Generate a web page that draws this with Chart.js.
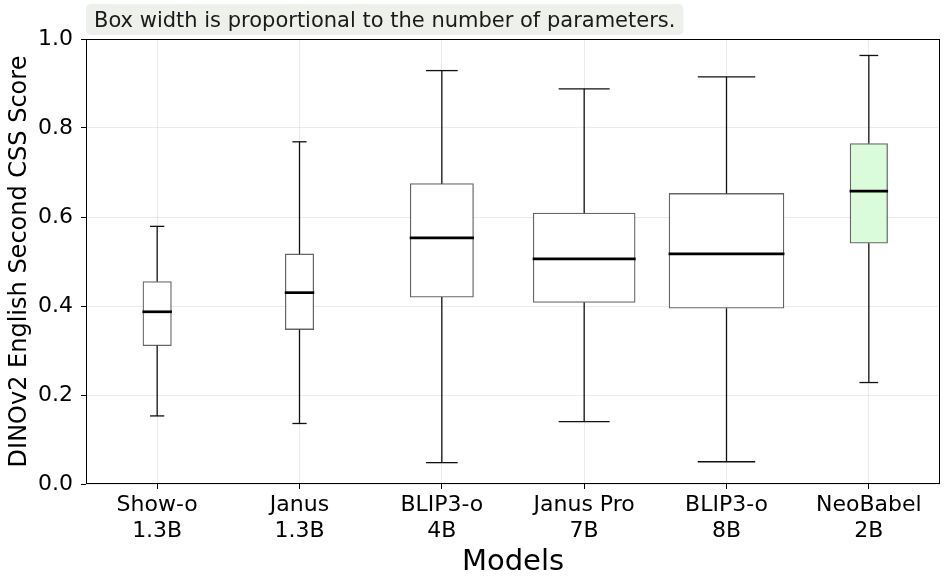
<!DOCTYPE html>
<html><head><meta charset="utf-8">
<script src="https://cdn.jsdelivr.net/npm/chart.js@4"></script>
<style>html,body{margin:0;padding:0;background:#fff}#wrap{width:950px;height:587px}</style>
</head><body><div id="wrap"><canvas id="c" width="950" height="587"></canvas></div>
<script>
const models = [['Show-o','1.3B'],['Janus','1.3B'],['BLIP3-o','4B'],['Janus Pro','7B'],['BLIP3-o','8B'],['NeoBabel','2B']];
const paramsB = [1.3, 1.3, 4, 7, 8, 2];
const whiskerLow  = [0.153, 0.136, 0.048, 0.140, 0.050, 0.228];
const q1          = [0.311, 0.347, 0.420, 0.408, 0.395, 0.541];
const median      = [0.387, 0.430, 0.553, 0.506, 0.517, 0.658];
const q3          = [0.455, 0.517, 0.675, 0.609, 0.653, 0.765];
const whiskerHigh = [0.579, 0.769, 0.929, 0.888, 0.915, 0.963];
const yTicks = [0, 0.2, 0.4, 0.6, 0.8, 1.0];
const highlightIndex = 5;
const noteText = 'Box width is proportional to the number of parameters.';

const FONT = "'DejaVu Sans', sans-serif";
function boxWidth(i){ return 11.7 + 12.9 * paramsB[i]; }

const datasets = models.map((m, i) => ({
  label: m.join(' '),
  data: models.map((_, j) => j === i ? [q1[i], q3[i]] : null),
  backgroundColor: i === highlightIndex ? '#dbfcdb' : '#ffffff',
  borderColor: 'rgba(0,0,0,0.6)',
  borderWidth: 1.3,
  borderSkipped: false,
  barThickness: boxWidth(i),
  grouped: false
}));

const overlay = {
  id: 'overlay',
  afterDatasetsDraw(chart){
    const {ctx, scales:{x, y}, chartArea:a} = chart;
    ctx.save();
    const seg = (x1,y1,x2,y2) => { ctx.beginPath(); ctx.moveTo(x1,y1); ctx.lineTo(x2,y2); ctx.stroke(); };
    models.forEach((m, i) => {
      const cx = x.getPixelForValue(i);
      const w = boxWidth(i);
      ctx.strokeStyle = '#111';
      ctx.lineWidth = 1.3;
      seg(cx, y.getPixelForValue(q3[i]), cx, y.getPixelForValue(whiskerHigh[i]));
      seg(cx, y.getPixelForValue(q1[i]), cx, y.getPixelForValue(whiskerLow[i]));
      seg(cx - w/4, y.getPixelForValue(whiskerHigh[i]), cx + w/4, y.getPixelForValue(whiskerHigh[i]));
      seg(cx - w/4, y.getPixelForValue(whiskerLow[i]), cx + w/4, y.getPixelForValue(whiskerLow[i]));
      ctx.strokeStyle = '#000';
      ctx.lineWidth = 2.7;
      const my = y.getPixelForValue(median[i]);
      seg(cx - w/2 - 0.5, my, cx + w/2 + 0.5, my);
    });
    ctx.strokeStyle = '#000';
    ctx.lineWidth = 1;
    ctx.strokeRect(a.left + 0.5, a.top + 0.5, a.width - 1, a.height - 1);
    ctx.restore();
  },
  afterDraw(chart){
    const ctx = chart.ctx;
    ctx.save();
    ctx.font = "21px " + FONT;
    const tw = ctx.measureText(noteText).width;
    const bx = 86, by = 4, bh = 31, bw = tw + 16;
    ctx.fillStyle = '#eef0ec';
    ctx.beginPath();
    ctx.roundRect(bx, by, bw, bh, 5);
    ctx.fill();
    ctx.fillStyle = '#1a1a1a';
    ctx.textBaseline = 'alphabetic';
    ctx.fillText(noteText, bx + 8, 27);
    ctx.restore();
  }
};

new Chart(document.getElementById('c'), {
  type: 'bar',
  data: { labels: models, datasets },
  plugins: [overlay],
  options: {
    responsive: false,
    animation: false,
    devicePixelRatio: 1,
    layout: { padding: { top: 39, right: 10, left: 0, bottom: 0 } },
    plugins: { legend: { display: false }, tooltip: { enabled: false } },
    scales: {
      x: {
        type: 'category',
        offset: true,
        grid: { offset: false, color: 'rgba(0,0,0,0.08)', tickColor: '#000', tickLength: 5, drawTicks: true },
        border: { display: false },
        ticks: { color: '#000', font: { family: FONT, size: 22, lineHeight: 1.15 }, padding: 4, maxRotation: 0, autoSkip: false },
        title: { display: true, text: 'Models', color: '#000', font: { family: FONT, size: 29 }, padding: { top: 0, bottom: 7.5 } },
        afterFit(s){ s.height = 103; }
      },
      y: {
        min: 0, max: 1,
        afterBuildTicks(s){ s.ticks = yTicks.map(v => ({ value: v })); },
        grid: { color: 'rgba(0,0,0,0.08)', tickColor: '#000', tickLength: 5 },
        border: { display: false },
        ticks: { color: '#000', font: { family: FONT, size: 22 }, padding: 8, callback: v => Number(v).toFixed(1) },
        title: { display: true, text: 'DINOv2 English Second CSS Score', color: '#000', font: { family: FONT, size: 24 }, padding: { top: 5.5, bottom: 4 } },
        afterFit(s){ s.width = 86; }
      }
    }
  }
});
</script>
</body></html>
